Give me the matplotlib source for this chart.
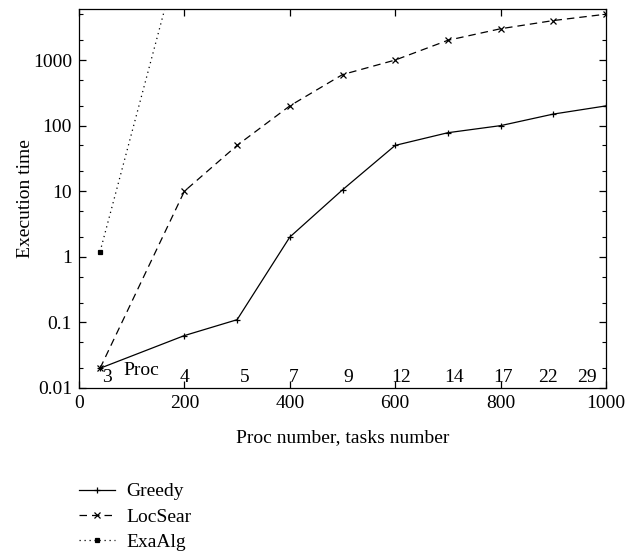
import matplotlib
matplotlib.use('Agg')
import matplotlib.pyplot as plt
from matplotlib.ticker import LogLocator, NullFormatter, FixedLocator, FixedFormatter

# data
x_vals = [40, 200, 300, 400, 500, 600, 700, 800, 900, 1000]
greedy = [0.02, 0.063, 0.11, 2.0, 10.5, 50, 78, 100, 150, 200]
locsear = [0.02, 10, 50, 200, 600, 1000, 2000, 3000, 4000, 5000]
exa_x = [40, 200]
exa_y = [1.2, 80000]

# processor count labels along the bottom
proc_x = [53, 200, 314, 408, 511, 611, 711, 805, 890, 964]
proc_labels = ['3', '4', '5', '7', '9', '12', '14', '17', '22', '29']

plt.rcParams['font.family'] = ['Liberation Serif', 'DejaVu Serif']
fs = 14

fig = plt.figure(figsize=(6.25, 5.54), dpi=100, facecolor='white')
ax = fig.add_axes([79 / 625, 1 - 388 / 554, 527 / 625, 379 / 554])

ax.plot(x_vals, greedy, color='black', lw=0.9, marker='+', ms=5, mew=0.9, label='Greedy')
ax.plot(x_vals, locsear, color='black', lw=0.9, ls=(0, (6, 4)), marker='x', ms=4.5, mew=0.9, label='LocSear')
ax.plot(exa_x, exa_y, color='black', lw=0.9, ls=(0, (1, 3)), marker='s', ms=3, mew=0.9, label='ExaAlg')

ax.set_yscale('log')
ax.set_xlim(0, 1000)
ax.set_ylim(0.01, 6000)

ax.xaxis.set_major_locator(FixedLocator([0, 200, 400, 600, 800, 1000]))
ax.yaxis.set_major_locator(FixedLocator([0.01, 0.1, 1, 10, 100, 1000]))
ax.yaxis.set_major_formatter(FixedFormatter(['0.01', '0.1', '1', '10', '100', '1000']))
ax.yaxis.set_minor_locator(LogLocator(base=10, subs=[2, 5]))
ax.yaxis.set_minor_formatter(NullFormatter())

ax.tick_params(which='both', direction='in', top=True, right=True, labelsize=fs, pad=5)
ax.tick_params(which='major', length=5, width=0.9)
ax.tick_params(which='minor', length=3, width=0.8)
for s in ax.spines.values():
    s.set_linewidth(0.9)

for px, lab in zip(proc_x, proc_labels):
    ax.text(px, 0.0108, lab, ha='center', va='bottom', fontsize=fs)
ax.text(85, 0.0135, 'Proc', ha='left', va='bottom', fontsize=fs)

ax.set_xlabel('Proc number, tasks number', fontsize=fs, labelpad=12)
ax.set_ylabel('Execution time', fontsize=fs, labelpad=-1)

fig.legend(loc='upper left', bbox_to_anchor=(71 / 625, 1 - 475 / 554), frameon=False,
           handlelength=1.85, handletextpad=0.6, labelspacing=0.4, fontsize=fs, borderaxespad=0)

plt.savefig('out.png', dpi=100, facecolor='white')
